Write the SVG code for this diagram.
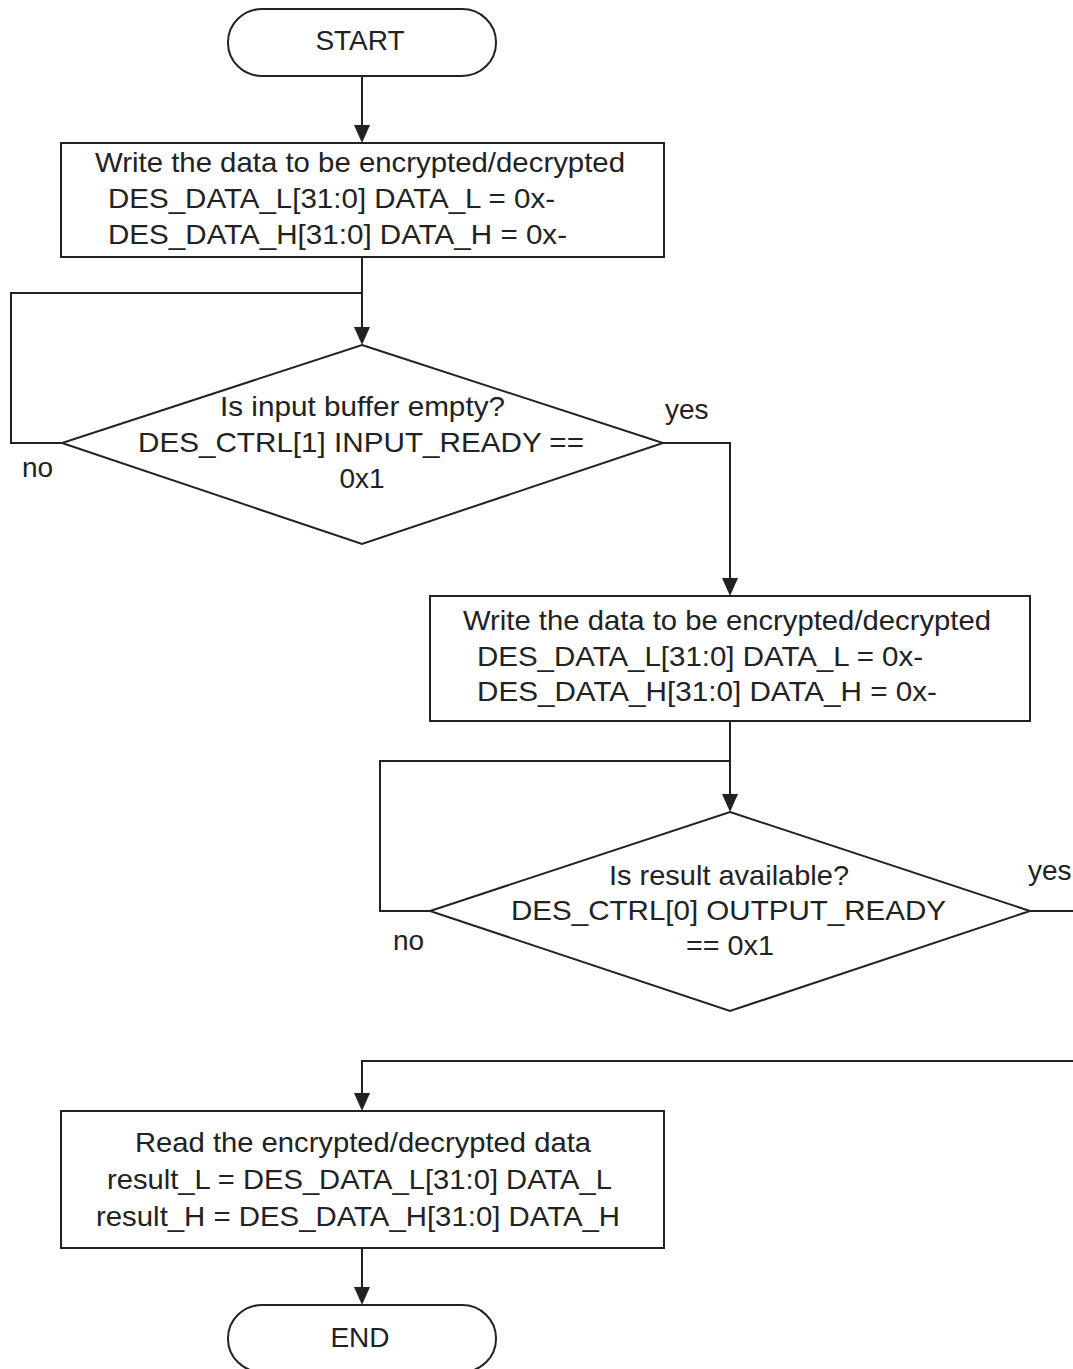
<svg xmlns="http://www.w3.org/2000/svg" width="1073" height="1369" viewBox="0 0 1073 1369">
<style>
.shape{fill:#fff;stroke:#222;stroke-width:2}
.line{fill:none;stroke:#222;stroke-width:2}
.arrow{marker-end:url(#arr)}
.t{font-family:"Liberation Sans",Arial,sans-serif;font-size:28px;fill:#222}
.m{text-anchor:middle}
</style>
<defs>
<marker id="arr" markerUnits="userSpaceOnUse" markerWidth="18" markerHeight="16" refX="16" refY="8" orient="auto" viewBox="0 0 18 16">
<path d="M0,0 L18,8 L0,16 Z" fill="#222"/>
</marker>
</defs>
<rect width="1073" height="1369" fill="#fff"/>
<g id="connectors">
<path class="line arrow" d="M362,76 V141"/>
<path class="line arrow" d="M362,257 V343"/>
<path class="line" d="M62,443 H11 V293 H362"/>
<path class="line arrow" d="M663,443 H730 V594"/>
<path class="line arrow" d="M730,721 V810"/>
<path class="line" d="M430,911 H380 V761 H730"/>
<path class="line" d="M1030,911 H1073"/>
<path class="line arrow" d="M1073,1061 H362 V1109"/>
<path class="line arrow" d="M362,1248 V1303"/>
</g>
<g id="start">
<rect class="shape" x="228" y="9" width="268" height="67" rx="34" ry="33"/>
<text class="t m" x="360" y="50">START</text>
</g>
<g id="write1">
<rect class="shape" x="61" y="143" width="603" height="114"/>
<text class="t" x="95" y="172" textLength="530" lengthAdjust="spacingAndGlyphs">Write the data to be encrypted/decrypted</text>
<text class="t" x="108" y="208" textLength="447" lengthAdjust="spacingAndGlyphs">DES_DATA_L[31:0] DATA_L = 0x-</text>
<text class="t" x="108" y="244" textLength="459" lengthAdjust="spacingAndGlyphs">DES_DATA_H[31:0] DATA_H = 0x-</text>
</g>
<g id="decision1">
<polygon class="shape" points="362,345 663,443 362,544 62,443"/>
<text class="t" x="220" y="416" textLength="285" lengthAdjust="spacingAndGlyphs">Is input buffer empty?</text>
<text class="t" x="138" y="452" textLength="446" lengthAdjust="spacingAndGlyphs">DES_CTRL[1] INPUT_READY ==</text>
<text class="t m" x="362" y="488">0x1</text>
<text class="t" x="665" y="419">yes</text>
<text class="t" x="22" y="477">no</text>
</g>
<g id="write2">
<rect class="shape" x="430" y="596" width="600" height="125"/>
<text class="t" x="463" y="630" textLength="528" lengthAdjust="spacingAndGlyphs">Write the data to be encrypted/decrypted</text>
<text class="t" x="477" y="666" textLength="446" lengthAdjust="spacingAndGlyphs">DES_DATA_L[31:0] DATA_L = 0x-</text>
<text class="t" x="477" y="701" textLength="460" lengthAdjust="spacingAndGlyphs">DES_DATA_H[31:0] DATA_H = 0x-</text>
</g>
<g id="decision2">
<polygon class="shape" points="730,812 1030,911 730,1011 430,911"/>
<text class="t" x="609" y="885" textLength="240" lengthAdjust="spacingAndGlyphs">Is result available?</text>
<text class="t" x="511" y="920" textLength="435" lengthAdjust="spacingAndGlyphs">DES_CTRL[0] OUTPUT_READY</text>
<text class="t" x="686" y="955" textLength="88" lengthAdjust="spacingAndGlyphs">== 0x1</text>
<text class="t" x="1028" y="880">yes</text>
<text class="t" x="393" y="950">no</text>
</g>
<g id="read">
<rect class="shape" x="61" y="1111" width="603" height="137"/>
<text class="t" x="135" y="1152" textLength="456" lengthAdjust="spacingAndGlyphs">Read the encrypted/decrypted data</text>
<text class="t" x="107" y="1189" textLength="505" lengthAdjust="spacingAndGlyphs">result_L = DES_DATA_L[31:0] DATA_L</text>
<text class="t" x="96" y="1226" textLength="524" lengthAdjust="spacingAndGlyphs">result_H = DES_DATA_H[31:0] DATA_H</text>
</g>
<g id="end">
<rect class="shape" x="228" y="1305" width="268" height="67" rx="34" ry="33"/>
<text class="t m" x="360" y="1347">END</text>
</g>
</svg>
